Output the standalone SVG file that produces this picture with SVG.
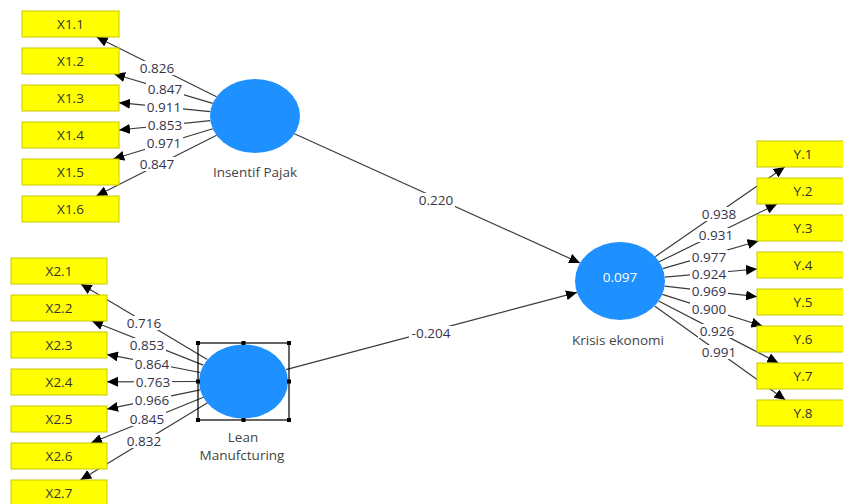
<svg xmlns="http://www.w3.org/2000/svg" width="843" height="504" viewBox="0 0 843 504">
  <style>
    .ind rect { fill: #ffff00; stroke: #c8c800; stroke-width: 1; }
    .ind text { font-family: "Open Sans", "Liberation Sans", sans-serif; font-size: 13.5px; fill: #333; text-anchor: middle; }
    .lv ellipse { fill: #1e90ff; }
    .lv text { font-family: "Open Sans", "Liberation Sans", sans-serif; font-size: 13.5px; fill: #444; text-anchor: middle; }
    .lv text.r2 { fill: #ffffff; }
    .edges line { stroke: #3a3a3a; stroke-width: 1.2; marker-end: url(#arrow); }
    .lbl rect { fill: #ffffff; }
    .lbl text { font-family: "Open Sans", "Liberation Sans", sans-serif; font-size: 13.5px; fill: #35334a; text-anchor: middle; }
    .sel rect { fill: none; stroke: #000; stroke-width: 1.2; }
    .sel rect.h { fill: #000; stroke: none; }
  </style>
  <defs>
    <marker id="arrow" markerUnits="userSpaceOnUse" markerWidth="12" markerHeight="10" refX="11" refY="5" orient="auto">
      <path d="M0,0 L11,5 L0,10 Z" fill="#000"/>
    </marker>
  </defs>
  <rect width="843" height="504" fill="#ffffff"/>

  <!-- connectors: outer loadings and inner path coefficients -->
  <g id="connectors" class="edges">
    <line x1="216.5" y1="96.8" x2="96.6" y2="37"/>
    <line x1="212.7" y1="103.4" x2="114.1" y2="74"/>
    <line x1="210.3" y1="111.6" x2="119" y2="102.7"/>
    <line x1="210.3" y1="120.6" x2="119" y2="130"/>
    <line x1="212.8" y1="128.8" x2="113.3" y2="159"/>
    <line x1="216.6" y1="135.3" x2="96.3" y2="196"/>

    <line x1="207.3" y1="359.4" x2="80.8" y2="284"/>
    <line x1="203.3" y1="365.1" x2="91.9" y2="321"/>
    <line x1="200.2" y1="372.5" x2="107" y2="354.4"/>
    <line x1="199" y1="381.5" x2="107" y2="381.8"/>
    <line x1="200.3" y1="389.9" x2="107" y2="409.1"/>
    <line x1="203.5" y1="397.3" x2="91" y2="443"/>
    <line x1="207.6" y1="402.8" x2="80.4" y2="480"/>

    <line x1="655.2" y1="256.7" x2="784.7" y2="167"/>
    <line x1="659.2" y1="261.8" x2="777" y2="204"/>
    <line x1="662.7" y1="268.7" x2="758.5" y2="241"/>
    <line x1="664.8" y1="277.1" x2="757" y2="269"/>
    <line x1="664.6" y1="286.1" x2="757" y2="296.7"/>
    <line x1="662.3" y1="294.4" x2="762.4" y2="326"/>
    <line x1="658.6" y1="301" x2="778.4" y2="363"/>
    <line x1="654.6" y1="305.9" x2="785.4" y2="400"/>

    <line x1="294.4" y1="133.8" x2="580.1" y2="263"/>
    <line x1="285.9" y1="369.7" x2="577" y2="292.4"/>
  </g>

  <!-- coefficient labels on the connectors -->
  <g id="edge-labels" class="lbl">
    <rect x="138" y="61" width="38" height="14"/><text x="157" y="73">0.826</text>
    <rect x="146" y="82" width="38" height="14"/><text x="165" y="94">0.847</text>
    <rect x="145" y="100" width="38" height="14"/><text x="164" y="112">0.911</text>
    <rect x="146" y="118" width="38" height="14"/><text x="165" y="130">0.853</text>
    <rect x="145" y="136" width="38" height="14"/><text x="164" y="148">0.971</text>
    <rect x="138" y="157" width="38" height="14"/><text x="157" y="169">0.847</text>

    <rect x="125" y="316" width="38" height="14"/><text x="144" y="328">0.716</text>
    <rect x="128" y="338" width="38" height="14"/><text x="147" y="350">0.853</text>
    <rect x="133" y="357" width="38" height="14"/><text x="152" y="369">0.864</text>
    <rect x="134" y="375" width="38" height="14"/><text x="153" y="387">0.763</text>
    <rect x="133" y="393" width="38" height="14"/><text x="152" y="405">0.966</text>
    <rect x="128" y="412" width="38" height="14"/><text x="147" y="424">0.845</text>
    <rect x="125" y="434" width="38" height="14"/><text x="144" y="446">0.832</text>

    <rect x="700" y="207" width="38" height="14"/><text x="719" y="219">0.938</text>
    <rect x="697" y="228" width="38" height="14"/><text x="716" y="240">0.931</text>
    <rect x="690" y="250" width="38" height="14"/><text x="709" y="262">0.977</text>
    <rect x="690" y="267" width="38" height="14"/><text x="709" y="279">0.924</text>
    <rect x="690" y="284" width="38" height="14"/><text x="709" y="296">0.969</text>
    <rect x="690" y="302" width="38" height="14"/><text x="709" y="314">0.900</text>
    <rect x="698" y="324" width="38" height="14"/><text x="717" y="336">0.926</text>
    <rect x="700" y="345" width="38" height="14"/><text x="719" y="357">0.991</text>

    <rect x="417" y="193" width="38" height="14"/><text x="436" y="205">0.220</text>
    <rect x="409" y="326" width="44" height="14"/><text x="431" y="338">-0.204</text>
  </g>

  <!-- latent variables -->
  <g id="insentif-pajak" class="lv">
    <ellipse cx="255" cy="116" rx="45" ry="37"/>
    <text x="255" y="177" font-size="14">Insentif Pajak</text>
  </g>
  <g id="lean-manufcturing" class="lv">
    <ellipse cx="243.5" cy="381.5" rx="44.5" ry="37"/>
    <text x="243" y="442">Lean</text>
    <text x="242" y="460">Manufcturing</text>
  </g>
  <g id="krisis-ekonomi" class="lv">
    <ellipse cx="620" cy="281" rx="45" ry="39"/>
    <text class="r2" x="620" y="282">0.097</text>
    <text x="618" y="345">Krisis ekonomi</text>
  </g>

  <!-- selection frame around Lean Manufcturing -->
  <g id="selection" class="sel">
    <rect x="198" y="343" width="91" height="77"/>
    <rect class="h" x="196" y="341" width="4" height="4"/>
    <rect class="h" x="241.5" y="341" width="4" height="4"/>
    <rect class="h" x="287" y="341" width="4" height="4"/>
    <rect class="h" x="196" y="379.5" width="4" height="4"/>
    <rect class="h" x="287" y="379.5" width="4" height="4"/>
    <rect class="h" x="196" y="418" width="4" height="4"/>
    <rect class="h" x="241.5" y="418" width="4" height="4"/>
    <rect class="h" x="287" y="418" width="4" height="4"/>
  </g>

  <!-- indicators -->
  <g id="X1.1" class="ind"><rect x="22" y="11" width="97" height="26"/><text x="70.5" y="29">X1.1</text></g>
  <g id="X1.2" class="ind"><rect x="22" y="48" width="97" height="26"/><text x="70.5" y="66">X1.2</text></g>
  <g id="X1.3" class="ind"><rect x="22" y="85" width="97" height="26"/><text x="70.5" y="103">X1.3</text></g>
  <g id="X1.4" class="ind"><rect x="22" y="122" width="97" height="26"/><text x="70.5" y="140">X1.4</text></g>
  <g id="X1.5" class="ind"><rect x="22" y="159" width="97" height="26"/><text x="70.5" y="177">X1.5</text></g>
  <g id="X1.6" class="ind"><rect x="22" y="196" width="97" height="26"/><text x="70.5" y="214">X1.6</text></g>

  <g id="X2.1" class="ind"><rect x="11" y="258" width="96" height="26"/><text x="59" y="276">X2.1</text></g>
  <g id="X2.2" class="ind"><rect x="11" y="295" width="96" height="26"/><text x="59" y="313">X2.2</text></g>
  <g id="X2.3" class="ind"><rect x="11" y="332" width="96" height="26"/><text x="59" y="350">X2.3</text></g>
  <g id="X2.4" class="ind"><rect x="11" y="369" width="96" height="26"/><text x="59" y="387">X2.4</text></g>
  <g id="X2.5" class="ind"><rect x="11" y="406" width="96" height="26"/><text x="59" y="424">X2.5</text></g>
  <g id="X2.6" class="ind"><rect x="11" y="443" width="96" height="26"/><text x="59" y="461">X2.6</text></g>
  <g id="X2.7" class="ind"><rect x="11" y="480" width="96" height="26"/><text x="59" y="498">X2.7</text></g>

  <g id="Y.1" class="ind"><rect x="757" y="141" width="93" height="26"/><text x="803" y="159">Y.1</text></g>
  <g id="Y.2" class="ind"><rect x="757" y="178" width="93" height="26"/><text x="803" y="196">Y.2</text></g>
  <g id="Y.3" class="ind"><rect x="757" y="215" width="93" height="26"/><text x="803" y="233">Y.3</text></g>
  <g id="Y.4" class="ind"><rect x="757" y="252" width="93" height="26"/><text x="803" y="270">Y.4</text></g>
  <g id="Y.5" class="ind"><rect x="757" y="289" width="93" height="26"/><text x="803" y="307">Y.5</text></g>
  <g id="Y.6" class="ind"><rect x="757" y="326" width="93" height="26"/><text x="803" y="344">Y.6</text></g>
  <g id="Y.7" class="ind"><rect x="757" y="363" width="93" height="26"/><text x="803" y="381">Y.7</text></g>
  <g id="Y.8" class="ind"><rect x="757" y="400" width="93" height="26"/><text x="803" y="418">Y.8</text></g>
</svg>
